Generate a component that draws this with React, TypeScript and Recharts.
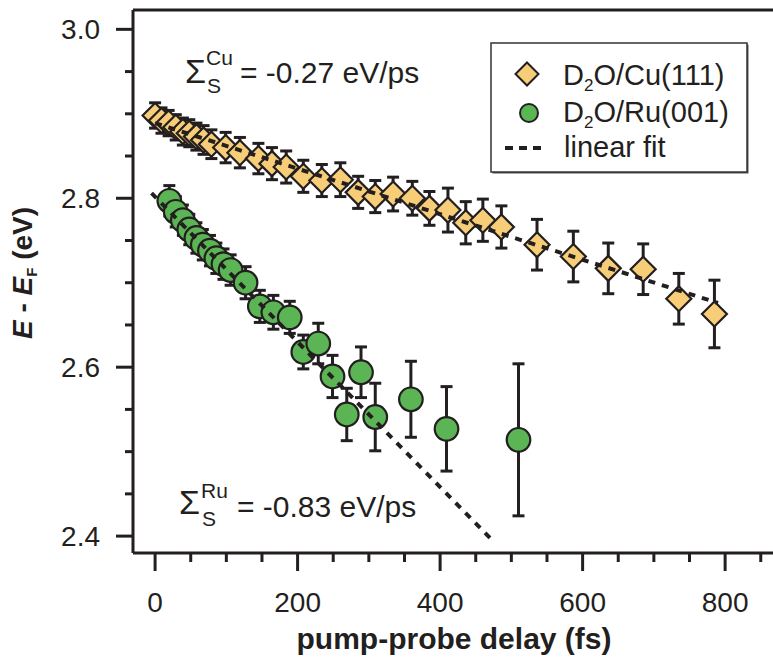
import { ScatterChart, Scatter, XAxis, YAxis, ErrorBar, ReferenceLine, Label } from 'recharts'

// D2O/Cu(111): delay (fs), E - EF (eV), error (eV)
const cuDelay = [0, 9, 19, 29, 39, 48, 58, 68, 79, 99, 119, 145, 164, 184, 208, 234, 260, 285, 309, 334, 361, 385, 411, 436, 460, 486, 536, 587, 636, 685, 735, 785]
const cuEnergy = [2.898, 2.892, 2.889, 2.884, 2.879, 2.877, 2.873, 2.869, 2.864, 2.86, 2.854, 2.847, 2.841, 2.837, 2.826, 2.821, 2.822, 2.807, 2.802, 2.805, 2.8, 2.788, 2.786, 2.771, 2.774, 2.766, 2.745, 2.731, 2.717, 2.716, 2.681, 2.663]
const cuError = [0.015, 0.015, 0.015, 0.015, 0.016, 0.016, 0.016, 0.017, 0.017, 0.018, 0.018, 0.018, 0.019, 0.019, 0.019, 0.019, 0.02, 0.019, 0.019, 0.02, 0.02, 0.02, 0.026, 0.025, 0.025, 0.025, 0.03, 0.03, 0.03, 0.03, 0.03, 0.04]

// D2O/Ru(001)
const ruDelay = [20, 29, 39, 48, 58, 67, 77, 86, 96, 106, 127, 147, 166, 189, 208, 229, 249, 269, 289, 309, 359, 409, 510]
const ruEnergy = [2.797, 2.784, 2.774, 2.763, 2.753, 2.745, 2.738, 2.729, 2.722, 2.715, 2.7, 2.672, 2.665, 2.659, 2.618, 2.628, 2.589, 2.544, 2.594, 2.541, 2.562, 2.527, 2.514]
const ruError = [0.018, 0.018, 0.018, 0.018, 0.018, 0.018, 0.018, 0.018, 0.018, 0.018, 0.019, 0.019, 0.02, 0.019, 0.02, 0.024, 0.025, 0.031, 0.03, 0.04, 0.045, 0.05, 0.09]

// linear fits, end points
const cuFitDelay = [0, 790]
const cuFitEnergy = [2.889, 2.676]
const ruFitDelay = [-5, 470]
const ruFitEnergy = [2.806, 2.398]

const xTicks = [0, 50, 100, 150, 200, 250, 300, 350, 400, 450, 500, 550, 600, 650, 700, 750, 800, 850]
const xMajor = [0, 200, 400, 600, 800]
const yTicks = [2.4, 2.45, 2.5, 2.55, 2.6, 2.65, 2.7, 2.75, 2.8, 2.85, 2.9, 2.95, 3.0]
const yMajor = [2.4, 2.6, 2.8, 3.0]

const X_DOMAIN = [-31, 870]
const Y_DOMAIN = [2.38, 3.0229]

const INK = '#231f20'
const CU_FILL = '#f7cd78'
const RU_FILL = '#5cb554'
const FONT = '"Liberation Sans", Arial, sans-serif'

const cuData = cuDelay.map((x, i) => ({ x, y: cuEnergy[i], err: cuError[i] }))
const ruData = ruDelay.map((x, i) => ({ x, y: ruEnergy[i], err: ruError[i] }))
const cuFit = cuFitDelay.map((x, i) => ({ x, y: cuFitEnergy[i] }))
const ruFit = ruFitDelay.map((x, i) => ({ x, y: ruFitEnergy[i] }))

const Diamond = ({ cx, cy }: any) => (
  <path
    d={`M${cx},${cy - 12.5}L${cx + 12.5},${cy}L${cx},${cy + 12.5}L${cx - 12.5},${cy}Z`}
    fill={CU_FILL}
    stroke={INK}
    strokeWidth={2.2}
  />
)

const Dot = ({ cx, cy }: any) => (
  <circle cx={cx} cy={cy} r={11.8} fill={RU_FILL} stroke={INK} strokeWidth={2.2} />
)

const Blank = () => <g />

const XTick = ({ x, y, payload }: any) => {
  const major = xMajor.includes(payload.value)
  return (
    <g>
      <line x1={x} x2={x} y1={y} y2={y + (major ? 18 : 9)} stroke={INK} strokeWidth={3} />
      {major && (
        <text x={x} y={y + 59} textAnchor="middle" fontSize={28} fill={INK} fontFamily={FONT}>
          {payload.value}
        </text>
      )}
    </g>
  )
}

const YTick = ({ x, y, payload }: any) => {
  const major = yMajor.includes(payload.value)
  return (
    <g>
      <line x1={x} x2={x - (major ? 17 : 8)} y1={y} y2={y} stroke={INK} strokeWidth={3} />
      {major && (
        <text x={x - 33} y={y + 10} textAnchor="end" fontSize={28} fill={INK} fontFamily={FONT}>
          {payload.value.toFixed(1)}
        </text>
      )}
    </g>
  )
}

const XTitle = ({ viewBox }: any) => (
  <text x={viewBox.x + viewBox.width / 2} y={viewBox.y + 96} textAnchor="middle" fontSize={30} fontWeight="bold" fill={INK} fontFamily={FONT}>
    pump-probe delay (fs)
  </text>
)

const YTitle = ({ viewBox }: any) => {
  const cx = viewBox.x + 32
  const cy = viewBox.y + 263
  return (
    <text x={cx} y={cy} transform={`rotate(-90 ${cx} ${cy})`} textAnchor="middle" fontSize={28} fontWeight="bold" fill={INK} fontFamily={FONT}>
      <tspan fontStyle="italic">E</tspan>
      <tspan> - </tspan>
      <tspan fontStyle="italic">E</tspan>
      <tspan fontSize={15} dy={5}>F</tspan>
      <tspan dy={-5}> (eV)</tspan>
    </text>
  )
}

function Overlay() {
  return (
    <svg width={773} height={661} style={{ position: 'absolute', left: 0, top: 0, pointerEvents: 'none' }} fontFamily={FONT} fill={INK}>
      {/* slope annotations */}
      <text x={185} y={83} fontSize={34}>Σ</text>
      <text x={206} y={65} fontSize={21}>Cu</text>
      <text x={207} y={93} fontSize={21}>S</text>
      <text x={240} y={83} fontSize={30}>= -0.27 eV/ps</text>

      <text x={179} y={514} fontSize={34}>Σ</text>
      <text x={201} y={498} fontSize={21}>Ru</text>
      <text x={202} y={526} fontSize={21}>S</text>
      <text x={237} y={517} fontSize={30}>= -0.83 eV/ps</text>

      {/* legend */}
      <g transform="translate(491,43)">
        <rect x={1.5} y={1.5} width={256} height={129} fill="#555" />
        <rect x={0} y={0} width={256} height={129} fill="#fff" stroke="#333" strokeWidth={1.5} />
        <path d="M36,19.5L47.5,31L36,42.5L24.5,31Z" fill={CU_FILL} stroke={INK} strokeWidth={2} />
        <text x={72} y={42} fontSize={29}>
          D<tspan fontSize={17} dy={6}>2</tspan><tspan dy={-6}>O/Cu(111)</tspan>
        </text>
        <circle cx={38} cy={70} r={9} fill={RU_FILL} stroke={INK} strokeWidth={2} />
        <text x={72} y={79} fontSize={29}>
          D<tspan fontSize={17} dy={6}>2</tspan><tspan dy={-6}>O/Ru(001)</tspan>
        </text>
        <line x1={14} x2={56} y1={105} y2={105} stroke={INK} strokeWidth={4} strokeDasharray="8 6" />
        <text x={73} y={114} fontSize={29}>linear fit</text>
      </g>
    </svg>
  )
}

export default function App() {
  return (
    <div style={{ position: 'absolute', left: 0, top: 0, width: 773, height: 661, overflow: 'hidden', background: '#fff', fontFamily: FONT }}>
      <style>{`.recharts-errorBar line { stroke-width: 3px; }`}</style>
      <ScatterChart width={780} height={661} margin={{ top: 10, right: 5, bottom: 0, left: 0 }}>
        <XAxis
          type="number"
          dataKey="x"
          domain={X_DOMAIN}
          allowDataOverflow
          ticks={xTicks}
          interval={0}
          tick={<XTick />}
          tickLine={false}
          tickSize={0}
          tickMargin={0}
          height={108}
          axisLine={{ stroke: INK, strokeWidth: 3 }}
        >
          <Label content={<XTitle />} />
        </XAxis>
        <YAxis
          type="number"
          dataKey="y"
          domain={Y_DOMAIN}
          allowDataOverflow
          ticks={yTicks}
          interval={0}
          tick={<YTick />}
          tickLine={false}
          tickSize={0}
          tickMargin={0}
          width={133}
          axisLine={{ stroke: INK, strokeWidth: 3 }}
        >
          <Label content={<YTitle />} />
        </YAxis>
        <ReferenceLine y={Y_DOMAIN[1]} stroke={INK} strokeWidth={3} ifOverflow="visible" />

        <Scatter data={cuData} shape={<Diamond />} isAnimationActive={false} />
        <Scatter data={ruData} shape={<Dot />} isAnimationActive={false} />

        <Scatter data={cuData} shape={<Blank />} isAnimationActive={false}>
          <ErrorBar dataKey="err" direction="y" width={6} stroke={INK} strokeWidth={3} isAnimationActive={false} />
        </Scatter>
        <Scatter data={ruData} shape={<Blank />} isAnimationActive={false}>
          <ErrorBar dataKey="err" direction="y" width={6} stroke={INK} strokeWidth={3} isAnimationActive={false} />
        </Scatter>

        <Scatter data={cuFit} shape={<Blank />} line={{ stroke: INK, strokeWidth: 4, strokeDasharray: '7 7' }} isAnimationActive={false} />
        <Scatter data={ruFit} shape={<Blank />} line={{ stroke: INK, strokeWidth: 4, strokeDasharray: '7 7' }} isAnimationActive={false} />
      </ScatterChart>
      <Overlay />
    </div>
  )
}
